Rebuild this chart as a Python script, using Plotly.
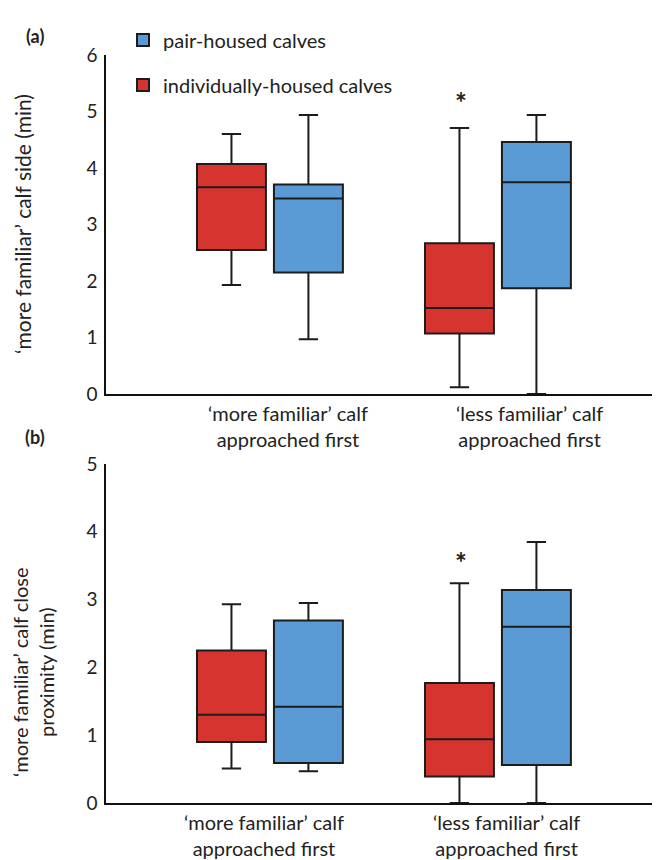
import plotly.graph_objects as go
from plotly.subplots import make_subplots

categories = ["'more familiar' calf approached first", "'less familiar' calf approached first"]
series_names = ["individually-housed calves", "pair-housed calves"]

# Panel (a): 'more familiar' calf side (min)
a_ind_low = [1.93, 0.12]
a_ind_q1 = [2.55, 1.07]
a_ind_med = [3.66, 1.52]
a_ind_q3 = [4.07, 2.67]
a_ind_high = [4.60, 4.71]

a_pair_low = [0.97, 0.0]
a_pair_q1 = [2.15, 1.87]
a_pair_med = [3.46, 3.75]
a_pair_q3 = [3.71, 4.46]
a_pair_high = [4.94, 4.94]

# Panel (b): 'more familiar' calf close proximity (min)
b_ind_low = [0.51, 0.0]
b_ind_q1 = [0.90, 0.39]
b_ind_med = [1.30, 0.94]
b_ind_q3 = [2.25, 1.77]
b_ind_high = [2.93, 3.24]

b_pair_low = [0.47, 0.0]
b_pair_q1 = [0.59, 0.56]
b_pair_med = [1.42, 2.60]
b_pair_q3 = [2.69, 3.14]
b_pair_high = [2.95, 3.85]

star_a = 5.17
star_b = 3.55

cat_labels = ["\u2018more familiar\u2019 calf<br>approached first",
              "\u2018less familiar\u2019 calf<br>approached first"]

RED = "#d6352f"
BLUE = "#5b9bd5"
LINE = "#1c1c1c"
FONT = "Lato"
TXT = "#222222"

# page body adds an 8px offset; figure sized to fit the window
W, H, OFF = 652, 852, 8
def px(x):
    return (x - OFF) / W
def py(y):
    return 1 - (y - OFF) / H

fig = make_subplots(rows=2, cols=1)

def add_box(row, name, color, low, q1, med, q3, high, show, leg):
    fig.add_trace(go.Box(
        x=categories, lowerfence=low, q1=q1, median=med, q3=q3, upperfence=high,
        name=name, legendgroup=name, showlegend=show, legend=leg,
        fillcolor=color, line=dict(color=LINE, width=2),
        whiskerwidth=0.28, boxpoints=False, offsetgroup=name,
        hoverinfo="skip",
    ), row=row, col=1)

add_box(1, series_names[0], RED, a_ind_low, a_ind_q1, a_ind_med, a_ind_q3, a_ind_high, True, "legend2")
add_box(1, series_names[1], BLUE, a_pair_low, a_pair_q1, a_pair_med, a_pair_q3, a_pair_high, True, "legend")
add_box(2, series_names[0], RED, b_ind_low, b_ind_q1, b_ind_med, b_ind_q3, b_ind_high, False, "legend2")
add_box(2, series_names[1], BLUE, b_pair_low, b_pair_q1, b_pair_med, b_pair_q3, b_pair_high, False, "legend")

xr = [-0.719, 1.702]
axis_common = dict(showline=True, linecolor="#111111", linewidth=1.5, showgrid=False,
                   zeroline=False, ticks="", mirror=False, automargin=False)
fig.update_xaxes(range=xr, showticklabels=False, **axis_common)
fig.update_yaxes(tickfont=dict(family=FONT, size=19, color=TXT), ticklabelstandoff=3, **axis_common)
fig.update_layout(
    xaxis=dict(domain=[px(106), px(658)]),
    xaxis2=dict(domain=[px(106), px(658)]),
    yaxis=dict(domain=[py(394), py(55)], range=[0, 6], dtick=1),
    yaxis2=dict(domain=[py(803), py(464)], range=[0, 5], dtick=1),
)

ann = []
# panel labels
for lab, yy in [("(a)", 36), ("(b)", 437)]:
    ann.append(dict(text="<b>" + lab + "</b>", x=px(35), y=py(yy), xref="paper", yref="paper",
                    xanchor="center", yanchor="middle", showarrow=False,
                    font=dict(family=FONT, size=18, color=TXT)))
# y titles
ann.append(dict(text="\u2018more familiar\u2019 calf side (min)", x=px(22), y=py(224),
                xref="paper", yref="paper", xanchor="center", yanchor="middle",
                textangle=-90, showarrow=False,
                font=dict(family=FONT, size=21, color=TXT)))
ann.append(dict(text="\u2018more familiar\u2019 calf close<br>proximity (min)", x=px(33), y=py(672),
                xref="paper", yref="paper", xanchor="center", yanchor="middle",
                textangle=-90, showarrow=False,
                font=dict(family=FONT, size=20, color=TXT)))
# category labels
for i, c in enumerate(categories):
    for xr_, yr_, dx in [("x", "y", [18, 32][i]), ("x2", "y2", [-6, 9][i])]:
        ann.append(dict(text=cat_labels[i], x=c, y=0, xref=xr_, yref=yr_, xanchor="center",
                        yanchor="top", xshift=dx, yshift=-5, showarrow=False,
                        font=dict(family=FONT, size=20, color=TXT)))
# significance stars
ann.append(dict(text="<b>*</b>", x=categories[1], y=star_a, xref="x", yref="y", xshift=-37,
                xanchor="center", yanchor="middle",
                showarrow=False, font=dict(family=FONT, size=28, color=TXT)))
ann.append(dict(text="<b>*</b>", x=categories[1], y=star_b, xref="x2", yref="y2", xshift=-37,
                xanchor="center", yanchor="middle",
                showarrow=False, font=dict(family=FONT, size=28, color=TXT)))

leg_common = dict(xanchor="left", yanchor="middle", bgcolor="rgba(0,0,0,0)",
                  font=dict(family=FONT, size=20, color=TXT))
fig.update_layout(
    width=W, height=H,
    margin=dict(l=0, r=0, t=0, b=0, autoexpand=False),
    paper_bgcolor="white", plot_bgcolor="white",
    boxmode="group", boxgap=0.325, boxgroupgap=0.104,
    annotations=ann,
    legend=dict(x=px(123), y=py(40), **leg_common),
    legend2=dict(x=px(123), y=py(85), **leg_common),
    font=dict(family=FONT),
)

fig.write_html("out.html")
